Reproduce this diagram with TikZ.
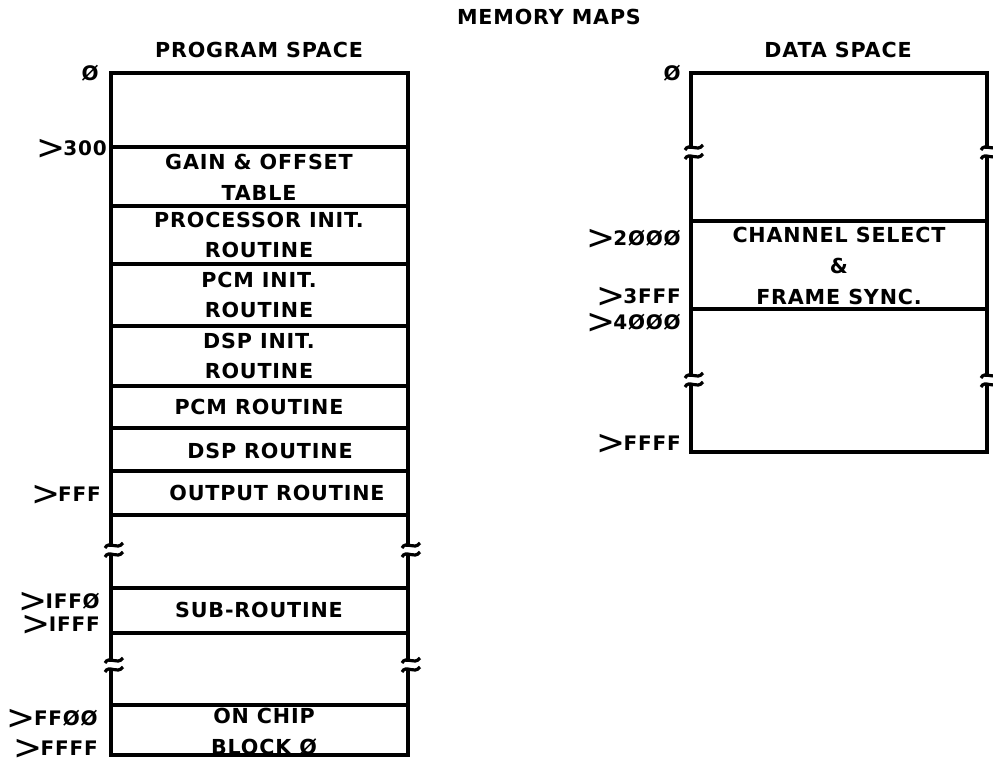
\documentclass[tikz,border=0pt]{standalone}
\usepackage{fontspec}
\setmainfont{DejaVu Sans}[LetterSpace=4]
\begin{document}
\begin{tikzpicture}[x=0.75pt,y=-0.75pt,
  edge/.style={line width=2.6pt},
  divider/.style={line width=2.4pt},
  txt/.style={font=\fontsize{15.5}{17}\selectfont\bfseries, inner sep=0pt, align=center},
  lab/.style={font=\fontsize{15}{15}\selectfont\bfseries, inner sep=0pt, anchor=east},
  brkmark/.style={line width=2.4pt}]
\useasboundingbox (0,0) rectangle (993,767);
\newcommand{\brkL}[2]{%
  \draw[brkmark] (#1-9,#2-2) .. controls (#1-5,#2-10) and (#1+3,#2+1) .. (#1+9,#2-7);
  \draw[brkmark] (#1-9,#2+7) .. controls (#1-5,#2-1) and (#1+3,#2+10) .. (#1+9,#2+2);}
\newcommand{\gt}{\smash{\fontsize{26}{26}\selectfont\mdseries\raisebox{-3pt}{>}}\kern-1.5pt}
% titles
\node[txt] (title) at (549,17) {MEMORY MAPS};
\node[txt] (ps) at (259,50) {PROGRAM SPACE};
\node[txt] (ds) at (838,50) {DATA SPACE};
% ---------- program space ----------
\draw[edge] (111,547) -- (111,73) -- (408,73) -- (408,547);
\draw[edge] (111,554) -- (111,662);
\draw[edge] (408,554) -- (408,662);
\draw[edge] (111,669) -- (111,755) -- (408,755) -- (408,669);
\brkL{114}{550}
\brkL{411}{550}
\brkL{114}{665}
\brkL{411}{665}
\foreach \yy in {147,206,264,326,386,428,471,515,588,633,705}
  \draw[divider] (111,\yy) -- (408,\yy);
\node[txt] (gain) at (259,177) {GAIN \& OFFSET\\[6pt]TABLE};
\node[txt] (proc) at (259,235) {PROCESSOR INIT.\\[6pt]ROUTINE};
\node[txt] (pcmi) at (259,295) {PCM INIT.\\[6pt]ROUTINE};
\node[txt] (dspi) at (259,356) {DSP INIT.\\[6pt]ROUTINE};
\node[txt] (pcm) at (259,407) {PCM ROUTINE};
\node[txt] (dsp) at (270,451) {DSP ROUTINE};
\node[txt] (out) at (277,493) {OUTPUT ROUTINE};
\node[txt] (sub) at (259,610) {SUB-ROUTINE};
\node[txt] (chip) at (264,732) {ON CHIP\\[6pt]BLOCK Ø};
\node[lab] (p0) at (99,73) {Ø};
\node[lab] (p300) at (107,148) {\gt300};
\node[lab] (pfff) at (101,494) {\gt FFF};
\node[lab] (p1ff0) at (100,601) {\gt IFFØ};
\node[lab] (p1fff) at (100,624) {\gt IFFF};
\node[lab] (pff00) at (98,718) {\gt FFØØ};
\node[lab] (pffff) at (98,748) {\gt FFFF};
% ---------- data space ----------
\draw[edge] (691,149) -- (691,73) -- (987,73) -- (987,149);
\draw[edge] (691,156) -- (691,377);
\draw[edge] (987,156) -- (987,377);
\draw[edge] (691,384) -- (691,452) -- (987,452) -- (987,384);
\brkL{694}{152}
\brkL{990}{152}
\brkL{694}{380}
\brkL{990}{380}
\foreach \yy in {221,309}
  \draw[divider] (691,\yy) -- (987,\yy);
\node[txt] (chan) at (839,266) {CHANNEL SELECT\\[6pt]\&\\[6pt]FRAME SYNC.};
\node[lab] (d0) at (681,73) {Ø};
\node[lab] (d2000) at (681,238) {\gt2ØØØ};
\node[lab] (d3fff) at (681,296) {\gt3FFF};
\node[lab] (d4000) at (681,322) {\gt4ØØØ};
\node[lab] (dffff) at (681,443) {\gt FFFF};
\end{tikzpicture}
\end{document}
